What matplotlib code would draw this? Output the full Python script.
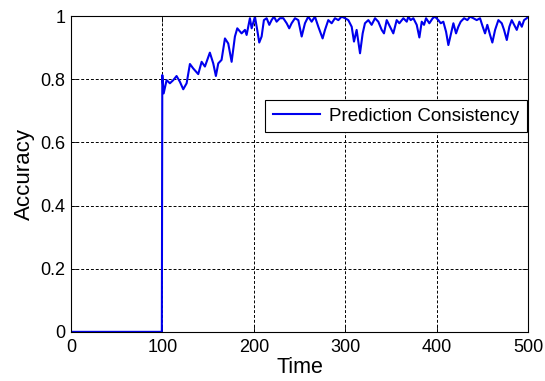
import matplotlib.pyplot as plt

# values
time = [0, 99.5, 100.0, 101.5, 104.7, 108.3, 112.0, 115.6, 119.2, 122.9, 126.6,
        130.2, 133.8, 139.3, 143.0, 146.6, 152.0, 155.7, 158.6, 161.2, 164.8,
        168.5, 172.1, 175.8, 179.4, 182.0, 186.7, 190.4, 192.2, 195.8, 197.7,
        201.3, 203.8, 206.0, 208.6, 211.1, 214.1, 217.0, 219.5, 222.1, 225.0,
        228.6, 232.3, 236.0, 238.8, 241.4, 245.1, 248.7, 252.4, 256.0, 259.6,
        263.3, 266.9, 270.6, 275.3, 277.9, 281.5, 285.2, 288.8, 292.5, 296.1,
        299.8, 303.4, 307.1, 309.6, 312.5, 316.2, 319.1, 321.6, 325.3, 328.9,
        332.6, 336.2, 339.9, 342.4, 345.4, 349.0, 352.6, 356.3, 359.2, 363.6,
        367.3, 369.0, 371.6, 374.5, 378.2, 381.1, 383.7, 386.2, 388.4, 392.0,
        395.7, 398.2, 401.8, 404.5, 407.3, 410.3, 412.8, 415.4, 418.3, 421.2,
        423.7, 426.3, 430.0, 433.6, 436.5, 440.1, 443.8, 447.4, 450.4, 452.9,
        455.4, 458.4, 460.9, 463.9, 467.5, 471.2, 473.7, 476.7, 479.5, 482.1,
        484.7, 487.6, 490.5, 493.1, 495.6, 498.5, 500.0]
accuracy = [0, 0, 0.813, 0.755, 0.797, 0.787, 0.797, 0.810, 0.792, 0.768, 0.787,
            0.848, 0.834, 0.816, 0.855, 0.840, 0.884, 0.850, 0.810, 0.850, 0.861,
            0.929, 0.913, 0.855, 0.935, 0.961, 0.945, 0.956, 0.940, 0.993, 0.961,
            0.998, 0.956, 0.916, 0.935, 0.987, 0.993, 0.972, 0.987, 0.998, 0.982,
            0.993, 0.993, 0.977, 0.961, 0.977, 0.993, 0.987, 0.935, 0.977, 0.998,
            0.982, 0.998, 0.966, 0.929, 0.956, 0.987, 0.977, 0.993, 0.987, 0.998,
            0.993, 0.987, 0.966, 0.919, 0.956, 0.882, 0.945, 0.977, 0.987, 0.972,
            0.993, 0.982, 0.956, 0.945, 0.987, 0.966, 0.945, 0.987, 0.977, 0.993,
            0.982, 0.998, 0.987, 0.993, 0.972, 0.932, 0.982, 0.972, 0.993, 0.977,
            0.993, 0.998, 0.987, 0.977, 0.982, 0.950, 0.908, 0.940, 0.977, 0.945,
            0.966, 0.982, 0.993, 0.987, 0.998, 0.993, 0.987, 0.993, 0.966, 0.945,
            0.972, 0.940, 0.916, 0.956, 0.987, 0.977, 0.956, 0.924, 0.966, 0.987,
            0.972, 0.956, 0.982, 0.966, 0.987, 0.993, 0.998]
x_ticks = [0, 100, 200, 300, 400, 500]
y_ticks = [0, 0.2, 0.4, 0.6, 0.8, 1]
y_tick_labels = ['0', '0.2', '0.4', '0.6', '0.8', '1']

plt.rcParams['font.family'] = ['Liberation Sans', 'DejaVu Sans']

fig = plt.figure(figsize=(5.45, 3.81), dpi=100)
ax = fig.add_axes([0.130, 0.129, 0.839, 0.829])

ax.plot(time, accuracy, color='#0000ee', linewidth=1.5, label='Prediction Consistency')

ax.set_xlim(0, 500)
ax.set_ylim(0, 1)
ax.set_xticks(x_ticks)
ax.set_yticks(y_ticks)
ax.set_yticklabels(y_tick_labels)
ax.tick_params(direction='in', length=4, width=0.6, top=True, right=True, labelsize=13)
ax.tick_params(axis='x', pad=5)
ax.tick_params(axis='y', pad=4)
ax.grid(True, color='black', linestyle=(0, (3, 2)), linewidth=0.7)
for s in ax.spines.values():
    s.set_linewidth(0.8)

ax.set_xlabel('Time', fontsize=15.5, labelpad=1)
ax.set_ylabel('Accuracy', fontsize=16, labelpad=4)

leg = ax.legend(loc='upper right', bbox_to_anchor=(0.997, 0.734), borderaxespad=0,
                fontsize=13.5, fancybox=False, framealpha=1, edgecolor='black',
                handlelength=2.5, borderpad=0.4, handletextpad=0.5)
leg.get_frame().set_linewidth(0.8)

fig.savefig('out.png', dpi=100)
